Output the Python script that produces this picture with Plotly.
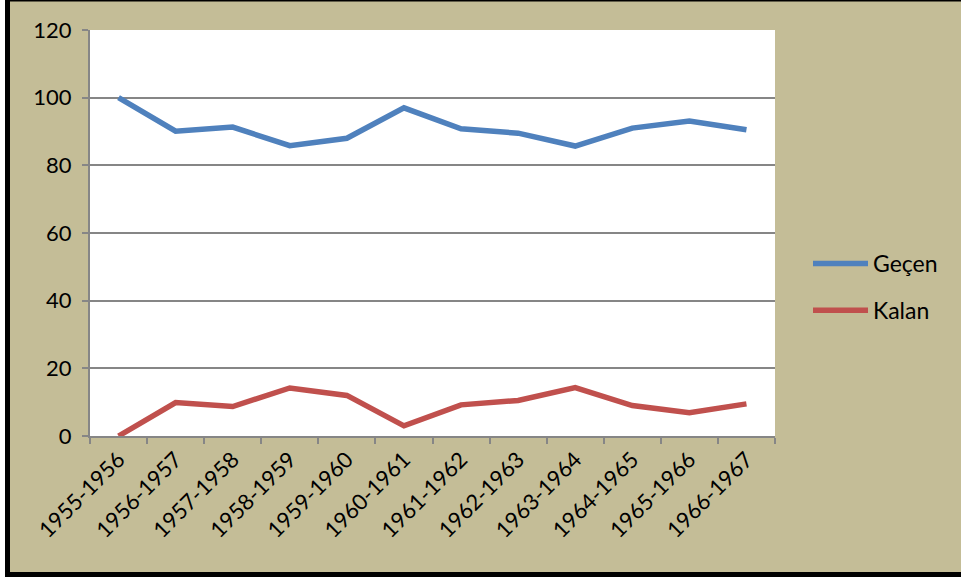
import plotly.graph_objects as go

categories = ["1955-1956", "1956-1957", "1957-1958", "1958-1959", "1959-1960", "1960-1961",
              "1961-1962", "1962-1963", "1963-1964", "1964-1965", "1965-1966", "1966-1967"]
gecen = [100, 90.1, 91.3, 85.8, 88.0, 97.0, 90.8, 89.5, 85.7, 91.0, 93.1, 90.5]
kalan = [0, 9.9, 8.7, 14.2, 12.0, 3.0, 9.2, 10.5, 14.3, 9.0, 6.9, 9.5]
y_ticks = [0, 20, 40, 60, 80, 100, 120]

W, H = 961, 583
L, R, T, B = 90, 775, 30, 436

fig = go.Figure()
fig.add_trace(go.Scatter(x=categories, y=gecen, mode="lines", name="Geçen",
                         line=dict(color="#4F81BD", width=5.5), legendgroup="a"))
fig.add_trace(go.Scatter(x=categories, y=kalan, mode="lines", name="Kalan",
                         line=dict(color="#C0504D", width=5.5), legendgroup="b"))

def px(x):
    return (x - L) / (R - L)

def py(y):
    return (B - y) / (B - T)

shapes = [
    # white strips outside frame
    dict(type="rect", xref="paper", yref="paper", x0=px(-5), x1=px(5), y0=py(600), y1=py(-5),
         fillcolor="white", line=dict(width=0), layer="below"),
    dict(type="rect", xref="paper", yref="paper", x0=px(-5), x1=px(970), y0=py(600), y1=py(577),
         fillcolor="white", line=dict(width=0), layer="below"),
    # black frame
    dict(type="rect", xref="paper", yref="paper", x0=px(7.5), x1=px(975), y0=py(574.5), y1=py(-1),
         line=dict(color="black", width=5), fillcolor="rgba(0,0,0,0)", layer="above"),
]

fig.update_layout(
    width=W, height=H,
    margin=dict(l=L, r=W - R, t=T, b=H - B, pad=0),
    paper_bgcolor="#C4BD97",
    plot_bgcolor="white",
    font=dict(family="Lato, Carlito, Calibri, sans-serif", size=22, color="black"),
    showlegend=True,
    legend=dict(x=px(808), xanchor="left", y=py(287), yanchor="middle",
                bgcolor="rgba(0,0,0,0)", itemwidth=55, tracegroupgap=14,
                traceorder="grouped", font=dict(size=23)),
    shapes=shapes,
    xaxis=dict(type="category", tickson="boundaries", ticks="outside", ticklen=6,
               tickcolor="#868686", tickwidth=2, showline=True, linecolor="#868686",
               linewidth=2, showgrid=False, tickangle=-45, tickfont=dict(size=22),
               range=[-0.5, len(categories) - 0.5], fixedrange=True),
    yaxis=dict(range=[0, 120], tickvals=y_ticks, ticks="outside", ticklen=6,
               tickcolor="#868686", tickwidth=2, showline=True, linecolor="#868686",
               linewidth=2, showgrid=True, gridcolor="#868686", gridwidth=1.5,
               zeroline=False, tickfont=dict(size=22), ticklabelstandoff=6),
)

fig.write_html("out.html", config={"displayModeBar": False},
               post_script="document.body.style.margin='0';document.body.style.overflow='hidden';")
